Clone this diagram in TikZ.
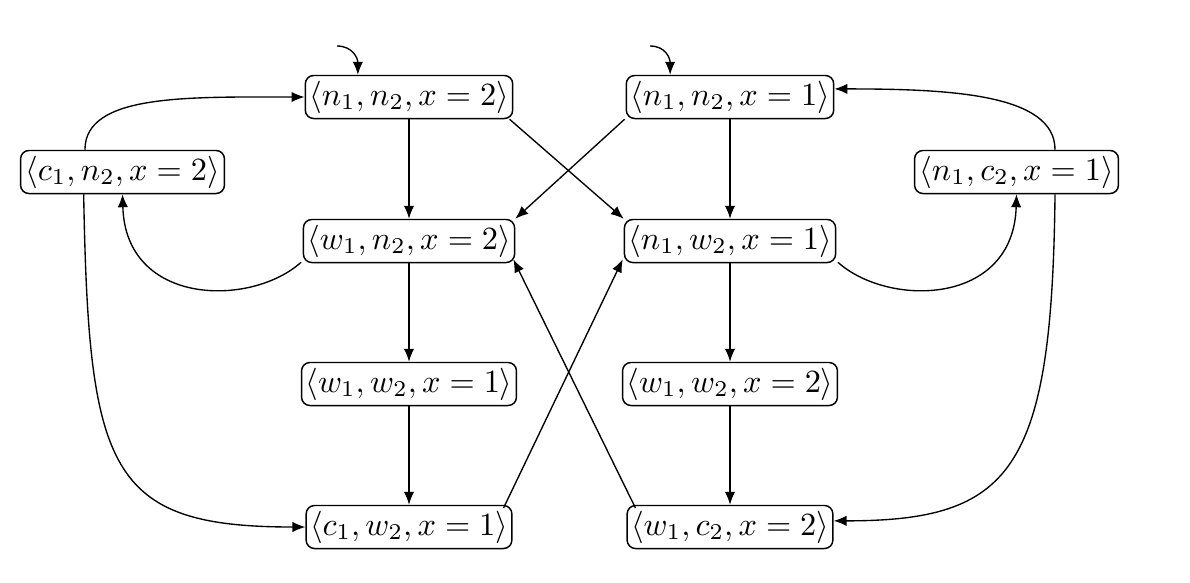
\documentclass[tikz,border=0pt]{standalone}
\usetikzlibrary{arrows.meta}
\begin{document}
\begin{tikzpicture}[x=0.309pt,y=-0.309pt,
  state/.style={draw,rounded corners=2.6pt,inner xsep=1.2pt,inner ysep=1.5pt,
    minimum width=63pt,minimum height=13.3pt,line width=0.45pt},
  edge/.style={-{Latex[length=4pt,width=3.2pt]},line width=0.42pt}]
\useasboundingbox (0,0) rectangle (1190,582);
\node[state] (a) at (409,97) {$\langle n_1,n_2,x=2\rangle$};
\node[state] (b) at (730,97) {$\langle n_1,n_2,x=1\rangle$};
\node[state] (c) at (122.5,172) {$\langle c_1,n_2,x=2\rangle$};
\node[state] (d) at (1016.5,172) {$\langle n_1,c_2,x=1\rangle$};
\node[state] (e) at (409,241) {$\langle w_1,n_2,x=2\rangle$};
\node[state] (f) at (730,241) {$\langle n_1,w_2,x=1\rangle$};
\node[state] (g) at (409,384) {$\langle w_1,w_2,x=1\rangle$};
\node[state] (h) at (730,384) {$\langle w_1,w_2,x=2\rangle$};
\node[state] (i) at (409,527) {$\langle c_1,w_2,x=1\rangle$};
\node[state] (j) at (730,527) {$\langle w_1,c_2,x=2\rangle$};
\coordinate (sa) at (337,46);
\coordinate (sb) at (650,46);
% initial arrows
\draw[edge] (sa) .. controls +(16,0) and +(0,-16) .. ([xshift=-15.8pt]a.north);
\draw[edge] (sb) .. controls +(16,0) and +(0,-16) .. ([xshift=-18.5pt]b.north);
% verticals
\draw[edge] (a) -- (e);
\draw[edge] (b) -- (f);
\draw[edge] (e) -- (g);
\draw[edge] (f) -- (h);
\draw[edge] (g) -- (i);
\draw[edge] (h) -- (j);
% crossings
\draw[edge] ([xshift=-1.2pt]a.south east) -- (f.north west);
\draw[edge] ([xshift=-0.3pt]b.south west) -- (e.north east);
\draw[edge] ([xshift=-2.8pt,yshift=-1pt]i.north east) -- ([xshift=-0.3pt,yshift=1.2pt]f.south west);
\draw[edge] ([xshift=2.8pt,yshift=-1pt]j.north west) -- ([xshift=-0.6pt,yshift=1.2pt]e.south east);
% curves
\draw[edge] ([xshift=-11.6pt]c.north) .. controls +(0,-56) and +(-117,0) .. (a.west);
\draw[edge] ([xshift=11.9pt]d.north) .. controls +(0,-56) and +(115,0) .. ([yshift=2.5pt]b.east);
\draw[edge] ([xshift=-12pt]c.south) .. controls +(5,277) and +(-197,0) .. (i.west);
\draw[edge] ([xshift=11.9pt]d.south) .. controls +(-3,277) and +(178,0) .. ([yshift=1.9pt]j.east);
\draw[edge] ([xshift=-0.5pt,yshift=0.3pt]e.south west) .. controls +(-50,45) and +(3,112) .. (c.south);
\draw[edge] ([xshift=0.5pt,yshift=0.3pt]f.south east) .. controls +(50,45) and +(-3,112) .. (d.south);
\end{tikzpicture}
\end{document}
